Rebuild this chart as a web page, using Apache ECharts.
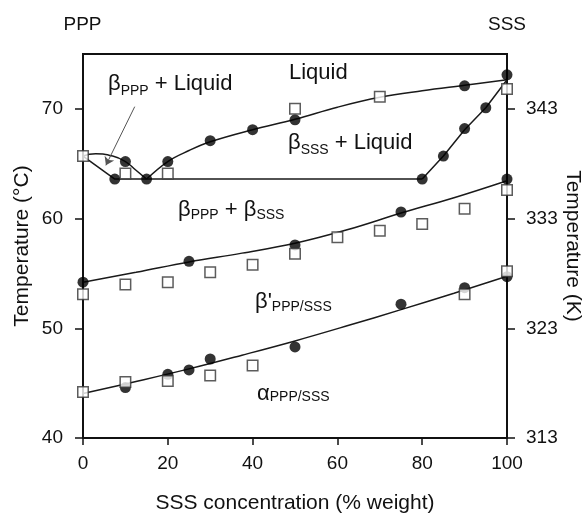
<!DOCTYPE html>
<html>
<head>
<meta charset="utf-8">
<script src="https://cdn.jsdelivr.net/npm/echarts@6/dist/echarts.min.js"></script>
<style>
  html, body { margin: 0; padding: 0; background: #fff; }
  #chart { width: 583px; height: 513px; }
</style>
</head>
<body>
<div id="chart"></div>
<script>
// Axis ticks
const xTicks = [0, 20, 40, 60, 80, 100];
const celsiusTicks = [40, 50, 60, 70];
const kelvinTicks = [313, 323, 333, 343];

// Phase-boundary curves, [SSS % weight, °C]
const liquidusLeftCurve = [[0, 65.7], [3, 65.9], [7, 65.7], [10, 65.2], [12.5, 64.4], [15, 63.6]];
const solidusLeftCurve = [[0, 65.7], [7.5, 63.6], [80, 63.6]];
const liquidusRightCurve = [[15, 63.6], [20, 65.2], [25, 66.2], [30, 67.0], [40, 68.1], [50, 69.05],
                            [60, 70.15], [70, 71.05], [80, 71.65], [90, 72.15], [100, 72.65]];
const betaSssCurve = [[80, 63.6], [85, 65.7], [90, 68.1], [95, 70.1], [100, 72.65]];
const betaPrimeCurve = [[0, 54.2], [12.5, 55.1], [25, 56.05], [37.5, 56.85], [50, 57.75],
                        [62.5, 59.0], [75, 60.5], [87.5, 61.9], [100, 63.45]];
const alphaCurve = [[0, 44.05], [12.5, 45.15], [25, 46.3], [37.5, 47.55], [50, 48.85],
                    [62.5, 50.25], [75, 51.7], [87.5, 53.2], [100, 54.75]];

// Measured points (filled circles)
const circlesLiquid = [[10, 65.2], [20, 65.2], [30, 67.1], [40, 68.1], [50, 69.0], [90, 72.1], [100, 73.1]];
const circlesSolid = [[7.5, 63.6], [15, 63.6], [80, 63.6], [85, 65.7], [90, 68.2], [95, 70.1]];
const circlesBetaPrime = [[0, 54.2], [25, 56.1], [50, 57.6], [75, 60.6], [100, 63.6]];
const circlesAlpha = [[10, 44.6], [20, 45.8], [25, 46.2], [30, 47.2], [50, 48.3], [75, 52.2], [90, 53.7], [100, 54.7]];

// Measured points (open squares)
const squaresLiquid = [[0, 65.7], [10, 64.1], [20, 64.1], [50, 70.0], [70, 71.1], [100, 71.8]];
const squaresBetaPrime = [[0, 53.1], [10, 54.0], [20, 54.2], [30, 55.1], [40, 55.8], [50, 56.8],
                          [60, 58.3], [70, 58.9], [80, 59.5], [90, 60.9], [100, 62.6]];
const squaresAlpha = [[0, 44.2], [10, 45.1], [20, 45.2], [30, 45.7], [40, 46.6], [90, 53.1], [100, 55.2]];

// Pointer from the "βPPP + Liquid" label into its region
const pointerFrom = [12.2, 70.2];
const pointerTo = [5.4, 64.85];

const FONT = '"Liberation Sans", Arial, sans-serif';
const INK = '#111';

const chart = echarts.init(document.getElementById('chart'), null, { renderer: 'canvas' });

function curve(data, smooth, extra) {
  return Object.assign({
    type: 'line', data, smooth, symbol: 'none', silent: true,
    lineStyle: { color: '#1a1a1a', width: 1.5 }, z: 2
  }, extra || {});
}
function circles(data) {
  return { type: 'scatter', data, symbol: 'circle', symbolSize: 11, silent: true,
           itemStyle: { color: '#000' }, z: 3 };
}
function squares(data) {
  return { type: 'scatter', data, symbol: 'rect', symbolSize: 10.5, silent: true,
           itemStyle: { color: '#fff', borderColor: '#333', borderWidth: 1.5 }, z: 4 };
}
function phaseLabel(x, y, text, subPad) {
  return {
    type: 'text', x, y, silent: true, z: 10,
    style: {
      text, align: 'left', verticalAlign: 'middle', fill: INK,
      fontSize: 22, fontFamily: FONT,
      rich: {
        m: { fontSize: 22, fontFamily: FONT, fill: INK },
        s: { fontSize: 14, fontFamily: FONT, fill: INK, padding: [subPad, 0, 0, 0] }
      }
    }
  };
}

const option = {
  animation: false,
  backgroundColor: '#fff',
  grid: {
    left: 83, right: 76, top: 54, bottom: 75,
    outerBoundsMode: 'none', containLabel: false,
    show: true, borderColor: INK, borderWidth: 2
  },
  xAxis: {
    type: 'value', min: 0, max: 100, interval: 20,
    name: 'SSS concentration (% weight)', nameLocation: 'middle', nameGap: 55, nameMoveOverlap: false,
    nameTextStyle: { fontSize: 21, fontFamily: FONT, color: INK },
    axisLine: { onZero: false, lineStyle: { color: INK, width: 2 } },
    axisTick: { length: 7, lineStyle: { color: INK, width: 1.5 }, customValues: xTicks },
    axisLabel: { fontSize: 19, fontFamily: FONT, color: INK, margin: 16, customValues: xTicks },
    splitLine: { show: false }
  },
  yAxis: [
    {
      type: 'value', min: 40, max: 75, interval: 10, position: 'left',
      name: 'Temperature (°C)', nameLocation: 'middle', nameGap: 50, nameMoveOverlap: false,
      nameTextStyle: { fontSize: 21, fontFamily: FONT, color: INK },
      axisLine: { onZero: false, lineStyle: { color: INK, width: 2 } },
      axisTick: { length: 8, lineStyle: { color: INK, width: 1.5 }, customValues: celsiusTicks },
      axisLabel: { fontSize: 19, fontFamily: FONT, color: INK, margin: 20, customValues: celsiusTicks },
      splitLine: { show: false }
    },
    {
      type: 'value', min: 313, max: 348, interval: 10, position: 'right',
      name: 'Temperature (K)', nameLocation: 'middle', nameGap: 55, nameRotate: -90, nameMoveOverlap: false,
      nameTextStyle: { fontSize: 21, fontFamily: FONT, color: INK },
      axisLine: { onZero: false, lineStyle: { color: INK, width: 2 } },
      axisTick: { length: 8, lineStyle: { color: INK, width: 1.5 }, customValues: kelvinTicks },
      axisLabel: { fontSize: 19, fontFamily: FONT, color: INK, margin: 19, customValues: kelvinTicks },
      splitLine: { show: false }
    }
  ],
  series: [
    curve(liquidusLeftCurve, 0.5),
    curve(solidusLeftCurve, false, {
      markLine: {
        silent: true, symbol: ['none', 'arrow'], symbolSize: 8,
        label: { show: false },
        lineStyle: { color: '#555', width: 1, type: 'solid' },
        data: [[{ coord: pointerFrom }, { coord: pointerTo }]]
      }
    }),
    curve(liquidusRightCurve, 0.4),
    curve(betaSssCurve, false),
    curve(betaPrimeCurve, 0.4),
    curve(alphaCurve, 0.4),
    circles(circlesLiquid),
    circles(circlesSolid),
    circles(circlesBetaPrime),
    circles(circlesAlpha),
    squares(squaresLiquid),
    squares(squaresBetaPrime),
    squares(squaresAlpha)
  ],
  graphic: [
    { type: 'text', x: 82.5, y: 25, silent: true,
      style: { text: 'PPP', align: 'center', verticalAlign: 'middle', fontSize: 19, fontFamily: FONT, fill: INK } },
    { type: 'text', x: 507, y: 25, silent: true,
      style: { text: 'SSS', align: 'center', verticalAlign: 'middle', fontSize: 19, fontFamily: FONT, fill: INK } },
    phaseLabel(108, 84, '{m|β}{s|PPP}{m| + Liquid}', 14),
    phaseLabel(289, 73, '{m|Liquid}', 0),
    phaseLabel(288, 143, '{m|β}{s|SSS}{m| + Liquid}', 15),
    phaseLabel(178, 210, '{m|β}{s|PPP}{m| + β}{s|SSS}', 10),
    phaseLabel(255, 302, "{m|β'}{s|PPP/SSS}", 10),
    phaseLabel(257, 394, '{m|α}{s|PPP/SSS}', 7)
  ]
};

chart.setOption(option);
</script>
</body>
</html>
